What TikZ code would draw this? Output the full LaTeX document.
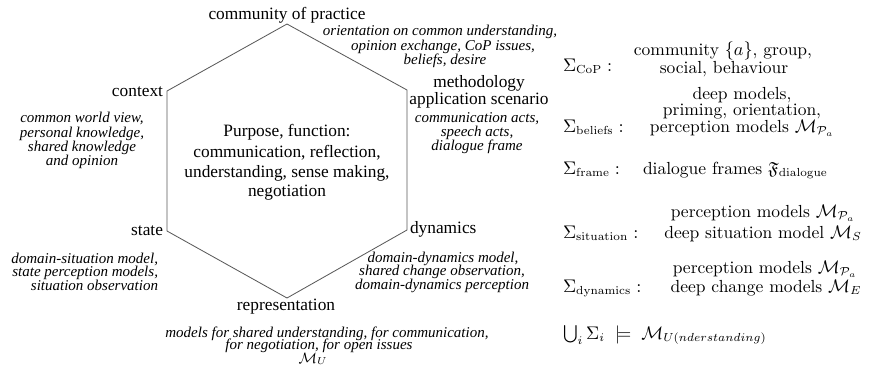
\documentclass[tikz,border=0pt]{standalone}
\usepackage[no-math]{fontspec}
\usepackage{amsmath,amssymb}
\setmainfont{Liberation Serif}
\newfontfamily\lmroman{Latin Modern Roman}
\begin{document}
\begin{tikzpicture}[x=0.6pt,y=-0.6pt,
  every node/.style={inner sep=0pt,outer sep=0pt},
  lbl/.style={anchor=base,font=\fontsize{10.4}{12}\selectfont},
  note/.style={anchor=base,font=\fontsize{9}{10}\selectfont\itshape},
  mid/.style={anchor=base,font=\fontsize{10.4}{12}\selectfont},
  sig/.style={anchor=base west,font=\lmroman\fontsize{10.5}{12}\selectfont},
  sigtxt/.style={anchor=base,font=\lmroman\fontsize{10.5}{12}\selectfont},
  hexline/.style={draw=black!65,line width=0.5pt,line join=miter}]
\useasboundingbox (0,0) rectangle (871,372);

% hexagon corners
\coordinate (vTop) at (287,24);
\coordinate (vUR)  at (407,90);
\coordinate (vLR)  at (407,230);
\coordinate (vBot) at (287,298);
\coordinate (vLL)  at (167,231);
\coordinate (vUL)  at (167,91);
\draw[hexline] (vTop) -- (vUR) -- (vLR) -- (vBot) -- (vLL) -- (vUL) -- cycle;

% corner labels
\node[lbl] (cop) at (287,19) {community of practice};
\node[lbl,anchor=base east] (ctx) at (163,96) {context};
\node[lbl,anchor=base east] (st) at (163,235) {state};
\node[lbl,anchor=base west] (dyn) at (410,233) {dynamics};
\node[lbl] (rep) at (286,310) {representation};
\node[lbl] (meth1) at (479,87) {methodology};
\node[lbl] (meth2) at (479,104) {application scenario};

% centre text
\node[mid] (c1) at (287,136) {Purpose, function:};
\node[mid] (c2) at (287,157) {communication, reflection,};
\node[mid] (c3) at (287,177) {understanding, sense making,};
\node[mid] (c4) at (287,196) {negotiation};

% italic notes
\node[note] (o1) at (440,35) {orientation on common understanding,};
\node[note] (o2) at (443,50) {opinion exchange, CoP issues,};
\node[note] (o3) at (445,64) {beliefs, desire};

\node[note] (a1) at (477,122) {communication acts,};
\node[note] (a2) at (477,136) {speech acts,};
\node[note] (a3) at (477,150) {dialogue frame};

\node[note] (w1) at (82,122) {common world view,};
\node[note] (w2) at (82,137) {personal knowledge,};
\node[note] (w3) at (82,151) {shared knowledge};
\node[note] (w4) at (82,165) {and opinion};

\node[note,anchor=base east] (s1) at (158,263) {domain-situation model,};
\node[note,anchor=base east] (s2) at (158,276) {state perception models,};
\node[note,anchor=base east] (s3) at (158,290) {situation observation};

\node[note] (d1) at (443,262) {domain-dynamics model,};
\node[note] (d2) at (442,275) {shared change observation,};
\node[note] (d3) at (442,289) {domain-dynamics perception};

\node[note] (r1) at (327,337) {models for shared understanding, for communication,};
\node[note] (r2) at (319,349) {for negotiation, for open issues};
\node[note] (r3) at (313,363) {$\mathcal{M}_U$};

% signatures
\node[sig] (sCoP) at (563,71) {$\Sigma_{\mathrm{CoP}}:$};
\node[sigtxt] (sCoP1) at (723,55) {community $\{a\}$, group,};
\node[sigtxt] (sCoP2) at (724,73) {social, behaviour};

\node[sig] (sBel) at (563,132) {$\Sigma_{\mathrm{beliefs}}:$};
\node[sigtxt] (sBel1) at (742,99) {deep models,};
\node[sigtxt] (sBel2) at (742,115) {priming, orientation,};
\node[sigtxt] (sBel3) at (742,132) {perception models $\mathcal{M}_{\mathcal{P}_a}$};

\node[sig] (sFr) at (563,174) {$\Sigma_{\mathrm{frame}}:$};
\node[sig] (sFr1) at (643,174) {dialogue frames $\mathfrak{F}_{\mathrm{dialogue}}$};

\node[sig] (sSit) at (563,238) {$\Sigma_{\mathrm{situation}}:$};
\node[sigtxt] (sSit1) at (763,217) {perception models $\mathcal{M}_{\mathcal{P}_a}$};
\node[sigtxt] (sSit2) at (763,238) {deep situation model $\mathcal{M}_S$};

\node[sig] (sDyn) at (563,292) {$\Sigma_{\mathrm{dynamics}}:$};
\node[sigtxt] (sDyn1) at (765,273) {perception models $\mathcal{M}_{\mathcal{P}_a}$};
\node[sigtxt] (sDyn2) at (766,292) {deep change models $\mathcal{M}_E$};

\node[sig] (sUni) at (563,339) {$\bigcup_i \Sigma_i \;\models\; \mathcal{M}_{U(nderstanding)}$};
\end{tikzpicture}
\end{document}
